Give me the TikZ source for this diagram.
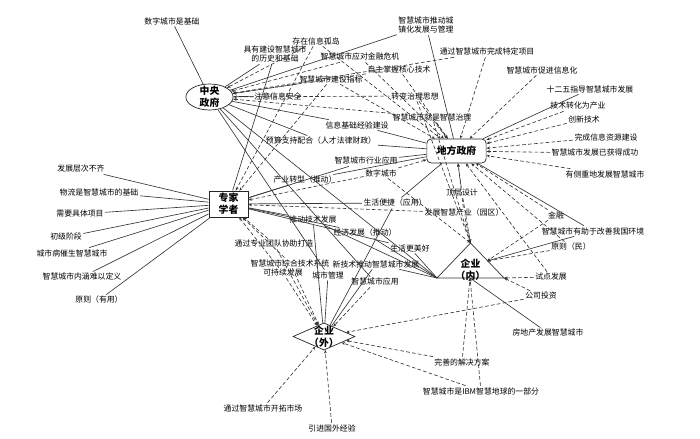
\documentclass[tikz,border=0pt]{standalone}
\usepackage{fontspec}
\setmainfont{Noto Sans CJK SC}
\usetikzlibrary{shapes.geometric, arrows.meta}
\tikzset{
  lbl/.style={font=\fontsize{5.6}{7}\selectfont, inner sep=1pt, align=center},
  hubtxt/.style={font=\fontsize{7}{8.5}\selectfont\bfseries, inner sep=0pt, align=center},
  hub/.style={hubtxt, draw=black!85, line width=0.5pt},
  sol/.style={draw=black!80, line width=0.45pt},
  dsh/.style={sol, dash pattern=on 2.6pt off 1.6pt, -{Stealth[length=2.5pt,width=2pt]}}
}

\begin{document}
\begin{tikzpicture}[x=0.025cm, y=-0.025cm]
\useasboundingbox (0,0) rectangle (700,439);
% hubs
\node[hub, ellipse, minimum width=1.18cm, minimum height=0.65cm] (cg) at (209.5,97) {};
\node[hubtxt] (cg-t) at (cg) {中央\\政府};
\node[hub, rounded corners=3pt, minimum width=1.48cm, minimum height=0.6cm] (lg) at (456.5,151) {地方政府};
\node[hub, minimum width=0.98cm, minimum height=0.65cm] (ex) at (228.5,204) {专家\\学者};
\node[hub, diamond, aspect=2.3, minimum width=1.55cm, minimum height=0.68cm] (eo) at (324,336.5) {};
\node[hubtxt] (eo-t) at (eo) {企业\\（外）};
\coordinate (ei-a) at (470.5,243);
\coordinate (ei-l) at (437,278);
\coordinate (ei-r) at (504,278);
\coordinate (ei-s) at (487,261);
\coordinate (ei-b) at (470,278);
\draw[sol, line width=0.5pt] (ei-l) -- (ei-a) -- (ei-r) -- cycle;
\node[hubtxt] (ei) at (470.5,270) {企业\\（内）};

% labels
\node[lbl] (szjc) at (172,21) {数字城市是基础};
\node[lbl] (gd) at (316,41) {存在信息孤岛};
\node[lbl] (lsjc) at (275,54) {具有建设智慧城市\\的历史和基础};
\node[lbl] (czh) at (426,25) {智慧城市推动城\\镇化发展与管理};
\node[lbl] (jrwj) at (360,57) {智慧城市应对金融危机};
\node[lbl] (tdxm) at (487,52) {通过智慧城市完成特定项目};
\node[lbl] (hxjs) at (399,69) {自主掌握核心技术};
\node[lbl] (xxh) at (542,70) {智慧城市促进信息化};
\node[lbl] (jszb) at (331,79) {智慧城市建设指标};
\node[lbl] (sew) at (590,89) {十二五指导智慧城市发展};
\node[lbl] (xxaq) at (278,96) {注意信息安全};
\node[lbl] (zlsx) at (415,96) {转变治理思想};
\node[lbl] (jscy) at (578,106) {技术转化为产业};
\node[lbl] (zhzl) at (432,117) {智慧城市就是智慧治理};
\node[lbl] (cxjs) at (584,119) {创新技术};
\node[lbl] (jyjs) at (357,125) {信息基础经验建设};
\node[lbl] (zyjs) at (606,137) {完成信息资源建设};
\node[lbl] (yszc) at (321,141) {预算支持配合（人才法律财政）};
\node[lbl] (hdcg) at (595,153) {智慧城市发展已获得成功};
\node[lbl] (hyyy) at (366,161) {智慧城市行业应用};
\node[lbl] (szcs) at (381,173) {数字城市};
\node[lbl] (czd) at (605,174) {有侧重地发展智慧城市};
\node[lbl] (cyzx) at (305,180) {产业转型（推动）};
\node[lbl] (dcsj) at (462,193) {顶层设计};
\node[lbl] (shbj) at (395,203) {生活便捷（应用）};
\node[lbl] (zhcy) at (464,213) {发展智慧产业（园区）};
\node[lbl] (jr) at (556,215) {金融};
\node[lbl] (tdjs) at (313,220) {推动技术发展};
\node[lbl] (gshj) at (593,231) {智慧城市有助于改善我国环境};
\node[lbl] (jjfz) at (365,233) {经济发展（推动）};
\node[lbl] (tdzy) at (274,244) {通过专业团队协助打造};
\node[lbl] (yzm) at (571,247) {原则（民）};
\node[lbl] (shmh) at (410,248) {生活更美好};
\node[lbl] (zhjs) at (290,263) {智慧城市综合技术系统};
\node[lbl] (xjs) at (376,264) {新技术推动智慧城市发展};
\node[lbl] (kcx) at (283,273) {可持续发展};
\node[lbl] (csgl) at (328,275) {城市管理};
\node[lbl] (sdfz) at (551,277) {试点发展};
\node[lbl] (zhyy) at (375,282) {智慧城市应用};
\node[lbl] (gstz) at (541,296) {公司投资};
\node[lbl] (fdc) at (548,333) {房地产发展智慧城市};
\node[lbl] (jjfa) at (462,362) {完善的解决方案};
\node[lbl] (ibm) at (481,391) {智慧城市是IBM智慧地球的一部分};
\node[lbl] (kt) at (263,408) {通过智慧城市开拓市场};
\node[lbl] (yj) at (332,428) {引进国外经验};
\node[lbl] (bq) at (81,169) {发展层次不齐};
\node[lbl] (wl) at (99,192) {物流是智慧城市的基础};
\node[lbl] (jtxm) at (80,214) {需要具体项目};
\node[lbl] (cj) at (66,237) {初级阶段};
\node[lbl] (csb) at (72,253) {城市病催生智慧城市};
\node[lbl] (nh) at (82,277) {智慧城市内涵难以定义};
\node[lbl] (yzyy) at (99,300) {原则（有用）};

% connectors
\foreach \a in {szjc,lsjc,czh,xxaq,jyjs,yszc,csgl,zhyy} \draw[sol] (\a) -- (cg);
\foreach \a in {gd,jrwj,jszb,hxjs,zlsx,zhzl,tdxm} \draw[dsh] (\a) -- (cg);
\draw[sol] (cg) -- (ei-l);
\foreach \a in {bq,wl,jtxm,cj,csb,nh,yzyy,lsjc,cyzx,hyyy,tdjs,jjfz,shmh,shbj} \draw[sol] (\a) -- (ex);
\foreach \a in {tdzy,zhjs,kcx,zhcy,szcs,jszb,gd} \draw[dsh] (\a) -- (ex);
\foreach \a in {czh,sew,gshj,yszc,jyjs,hyyy,cyzx,shbj} \draw[sol] (\a) -- (lg);
\foreach \a in {tdxm,xxh,jscy,cxjs,zyjs,hdcg,czd,dcsj,zhcy,hxjs,zlsx,zhzl,gd,jrwj,jszb,szcs,sdfz,yzm,jr} \draw[dsh] (\a) -- (lg);
\foreach \a in {dcsj,zhcy,zhzl,szcs,zlsx} \draw[dsh] (\a) -- (ei-a);
\foreach \a in {jjfz,shmh,xjs,tdjs} \draw[sol] (\a) -- (ei-l);
\draw[sol, -{Stealth[length=2.5pt,width=2pt]}] (gshj) -- (ei-s);
\foreach \a in {yzm,jr} \draw[dsh] (\a) -- (ei-s);
\foreach \a in {sdfz,gstz} \draw[dsh] (\a) -- (ei-r);
\foreach \a in {jjfa,ibm} \draw[dsh] (\a) -- (ei-b);
\draw[sol] (ei-b) -- (fdc);
\foreach \a in {csgl,tdjs,shbj,xjs} \draw[sol] (\a) -- (eo);
\foreach \a in {kt,yj,jjfa,ibm,gstz,kcx,zhjs,tdzy,zhyy} \draw[dsh] (\a) -- (eo);
\end{tikzpicture}
\end{document}
